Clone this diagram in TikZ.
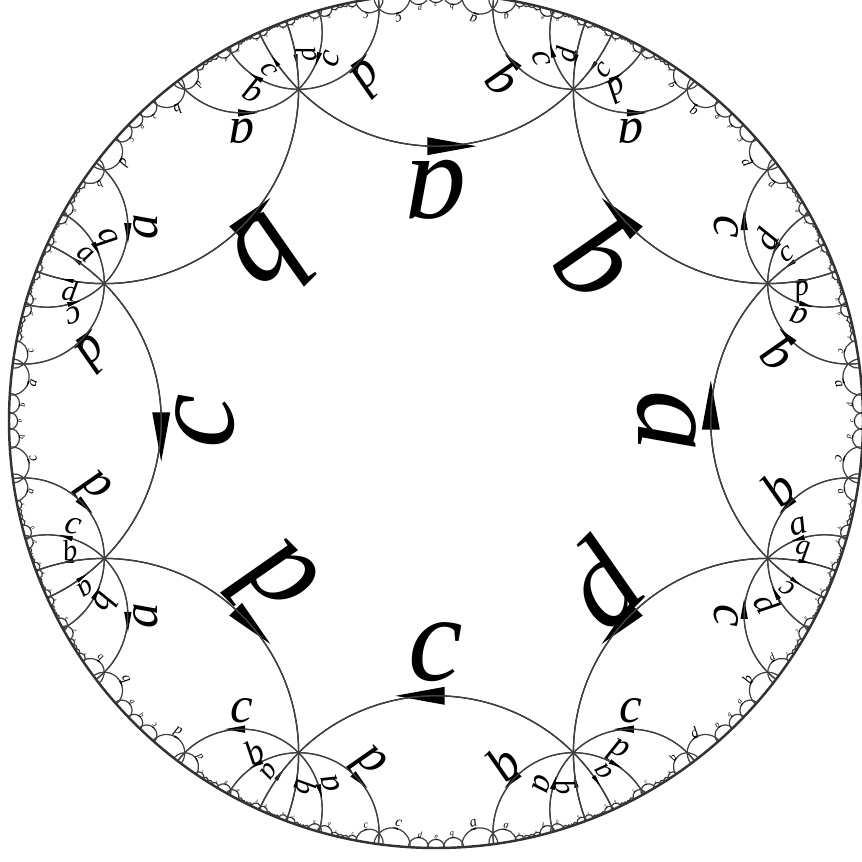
\documentclass[tikz,border=0pt]{standalone}
\usepackage{fontspec}
\setmainfont{Liberation Serif}
\tikzset{
  hyline/.style={line width=0.35pt, draw=black!75},
  hyarrow/.style={fill=black},
  hylabel/.style={inner sep=0pt, font=\fontsize{10}{12}\selectfont\itshape},
  rim/.style={line width=0.7pt, draw=black!80}
}
\newcommand\HyArc[5]{\draw[hyline] (#1,#2) arc[start angle=#3, delta angle=#4, radius=#5];}
\newcommand\HyTri[6]{\fill[hyarrow] (#1,#2) -- (#3,#4) -- (#5,#6) -- cycle;}
\newcommand\HyLab[5]{\node[hylabel, rotate=#3, scale=#4] at (#1,#2) {#5};}
\ExplSyntaxOn
\fp_new:N \l_hy_tau_fp
\fp_new:N \l_hy_rv_fp
\fp_new:N \l_hy_rm_fp
\fp_set:Nn \l_hy_tau_fp { sqrt(2*sqrt(2)-2) }
\fp_set:Nn \l_hy_rv_fp { 2^(-0.25) }
\fp_set:Nn \l_hy_rm_fp { sqrt(sqrt(2)-1) }
\fp_const:Nn \c_hy_at_fp { 0.095 }
\fp_const:Nn \c_hy_ab_fp { 0.02 }
\fp_const:Nn \c_hy_aw_fp { 0.021 }
\fp_const:Nn \c_hy_ln_fp { 0.103 }
\fp_const:Nn \c_hy_lt_fp { 0.0 }
\fp_const:Nn \c_hy_fs_fp { 3.5 }
\clist_map_inline:nn
  { ar,ai,br,bi,cr,ci,dr,di,
    tar,tai,tbr,tbi,tcr,tci,tdr,tdi,
    gar,gai,gbr,gbi,gcr,gci,th,ph,
    x,y,X,Y,mr,mi,qr,qi,s,detr,deti,
    pax,pay,pbx,pby,pcx,pcy,ux,uy,R,sa,da,D,
    tgx,tgy,
    ex,ey,dx,dy,nx,ny,sg,rot,scl }
  { \fp_new:c { l_hy_#1_fp } }
\int_new:N \l_hy_k_int
\int_new:N \l_hy_j_int
\int_new:N \l_hy_e_int
\bool_new:N \l_hy_skip_bool

\cs_new:Npn \hy_pair:n #1
  { \int_case:nn {#1} { {0}{2} {1}{3} {2}{0} {3}{1} {4}{6} {5}{7} {6}{4} {7}{5} } }
\cs_new:Npn \hy_sign:n #1
  { \int_case:nnF {#1} { {0}{1} {1}{1} {4}{1} {5}{1} } {-1} }
\cs_new:Npn \hy_letter:n #1
  { \int_case:nn {#1} { {0}{a} {1}{b} {2}{a} {3}{b} {4}{c} {5}{d} {6}{c} {7}{d} } }
\cs_new:Npn \hy_fmt:n #1 { \fp_eval:n { round( #1 , 5 ) } }

\cs_new_protected:Npn \hy_identity:
  {
    \fp_set:Nn \l_hy_ar_fp {1} \fp_set:Nn \l_hy_ai_fp {0}
    \fp_set:Nn \l_hy_br_fp {0} \fp_set:Nn \l_hy_bi_fp {0}
    \fp_set:Nn \l_hy_cr_fp {0} \fp_set:Nn \l_hy_ci_fp {0}
    \fp_set:Nn \l_hy_dr_fp {1} \fp_set:Nn \l_hy_di_fp {0}
  }

\cs_new_protected:Npn \hy_rmul:n #1
  {
    \int_set:Nn \l_hy_j_int {#1}
    \fp_set:Nn \l_hy_th_fp { 90 * ( \hy_sign:n { \l_hy_j_int } ) }
    \fp_set:Nn \l_hy_ph_fp { 45 * \int_use:N \l_hy_j_int }
    \fp_set:Nn \l_hy_gar_fp { cosd(\l_hy_th_fp) }
    \fp_set:Nn \l_hy_gai_fp { sind(\l_hy_th_fp) }
    \fp_set:Nn \l_hy_gbr_fp { \l_hy_tau_fp * cosd(\l_hy_ph_fp) }
    \fp_set:Nn \l_hy_gbi_fp { \l_hy_tau_fp * sind(\l_hy_ph_fp) }
    \fp_set:Nn \l_hy_gcr_fp { \l_hy_tau_fp * cosd(\l_hy_th_fp - \l_hy_ph_fp) }
    \fp_set:Nn \l_hy_gci_fp { \l_hy_tau_fp * sind(\l_hy_th_fp - \l_hy_ph_fp) }
    \fp_set:Nn \l_hy_tar_fp { \l_hy_ar_fp*\l_hy_gar_fp - \l_hy_ai_fp*\l_hy_gai_fp + \l_hy_br_fp*\l_hy_gcr_fp - \l_hy_bi_fp*\l_hy_gci_fp }
    \fp_set:Nn \l_hy_tai_fp { \l_hy_ar_fp*\l_hy_gai_fp + \l_hy_ai_fp*\l_hy_gar_fp + \l_hy_br_fp*\l_hy_gci_fp + \l_hy_bi_fp*\l_hy_gcr_fp }
    \fp_set:Nn \l_hy_tbr_fp { \l_hy_ar_fp*\l_hy_gbr_fp - \l_hy_ai_fp*\l_hy_gbi_fp + \l_hy_br_fp }
    \fp_set:Nn \l_hy_tbi_fp { \l_hy_ar_fp*\l_hy_gbi_fp + \l_hy_ai_fp*\l_hy_gbr_fp + \l_hy_bi_fp }
    \fp_set:Nn \l_hy_tcr_fp { \l_hy_cr_fp*\l_hy_gar_fp - \l_hy_ci_fp*\l_hy_gai_fp + \l_hy_dr_fp*\l_hy_gcr_fp - \l_hy_di_fp*\l_hy_gci_fp }
    \fp_set:Nn \l_hy_tci_fp { \l_hy_cr_fp*\l_hy_gai_fp + \l_hy_ci_fp*\l_hy_gar_fp + \l_hy_dr_fp*\l_hy_gci_fp + \l_hy_di_fp*\l_hy_gcr_fp }
    \fp_set:Nn \l_hy_tdr_fp { \l_hy_cr_fp*\l_hy_gbr_fp - \l_hy_ci_fp*\l_hy_gbi_fp + \l_hy_dr_fp }
    \fp_set:Nn \l_hy_tdi_fp { \l_hy_cr_fp*\l_hy_gbi_fp + \l_hy_ci_fp*\l_hy_gbr_fp + \l_hy_di_fp }
    \clist_map_inline:nn {ar,ai,br,bi,cr,ci,dr,di}
      { \fp_set_eq:cc { l_hy_##1_fp } { l_hy_t##1_fp } }
  }

\cs_new_protected:Npn \hy_map:nn #1#2
  {
    \fp_set:Nn \l_hy_x_fp {#1}
    \fp_set:Nn \l_hy_y_fp {#2}
    \fp_set:Nn \l_hy_mr_fp { \l_hy_ar_fp*\l_hy_x_fp - \l_hy_ai_fp*\l_hy_y_fp + \l_hy_br_fp }
    \fp_set:Nn \l_hy_mi_fp { \l_hy_ar_fp*\l_hy_y_fp + \l_hy_ai_fp*\l_hy_x_fp + \l_hy_bi_fp }
    \fp_set:Nn \l_hy_qr_fp { \l_hy_cr_fp*\l_hy_x_fp - \l_hy_ci_fp*\l_hy_y_fp + \l_hy_dr_fp }
    \fp_set:Nn \l_hy_qi_fp { \l_hy_cr_fp*\l_hy_y_fp + \l_hy_ci_fp*\l_hy_x_fp + \l_hy_di_fp }
    \fp_set:Nn \l_hy_s_fp { \l_hy_qr_fp^2 + \l_hy_qi_fp^2 }
    \fp_set:Nn \l_hy_X_fp { (\l_hy_mr_fp*\l_hy_qr_fp + \l_hy_mi_fp*\l_hy_qi_fp) / \l_hy_s_fp }
    \fp_set:Nn \l_hy_Y_fp { (\l_hy_mi_fp*\l_hy_qr_fp - \l_hy_mr_fp*\l_hy_qi_fp) / \l_hy_s_fp }
  }

\cs_new_protected:Npn \hy_circ:
  {
    \fp_set:Nn \l_hy_D_fp { 2*( \l_hy_pax_fp*(\l_hy_pby_fp-\l_hy_pcy_fp) + \l_hy_pbx_fp*(\l_hy_pcy_fp-\l_hy_pay_fp) + \l_hy_pcx_fp*(\l_hy_pay_fp-\l_hy_pby_fp) ) }
    \fp_set:Nn \l_hy_ux_fp { ( (\l_hy_pax_fp^2+\l_hy_pay_fp^2)*(\l_hy_pby_fp-\l_hy_pcy_fp) + (\l_hy_pbx_fp^2+\l_hy_pby_fp^2)*(\l_hy_pcy_fp-\l_hy_pay_fp) + (\l_hy_pcx_fp^2+\l_hy_pcy_fp^2)*(\l_hy_pay_fp-\l_hy_pby_fp) ) / \l_hy_D_fp }
    \fp_set:Nn \l_hy_uy_fp { ( (\l_hy_pax_fp^2+\l_hy_pay_fp^2)*(\l_hy_pcx_fp-\l_hy_pbx_fp) + (\l_hy_pbx_fp^2+\l_hy_pby_fp^2)*(\l_hy_pax_fp-\l_hy_pcx_fp) + (\l_hy_pcx_fp^2+\l_hy_pcy_fp^2)*(\l_hy_pbx_fp-\l_hy_pax_fp) ) / \l_hy_D_fp }
    \fp_set:Nn \l_hy_R_fp { sqrt( (\l_hy_pax_fp-\l_hy_ux_fp)^2 + (\l_hy_pay_fp-\l_hy_uy_fp)^2 ) }
  }

\cs_new_protected:Npn \hy_edge:n #1
  {
    \hy_map:nn { \l_hy_rv_fp*cosd(45*#1-22.5) } { \l_hy_rv_fp*sind(45*#1-22.5) }
    \fp_set_eq:NN \l_hy_pax_fp \l_hy_X_fp \fp_set_eq:NN \l_hy_pay_fp \l_hy_Y_fp
    \hy_map:nn { \l_hy_rm_fp*cosd(45*#1) } { \l_hy_rm_fp*sind(45*#1) }
    \fp_set_eq:NN \l_hy_pbx_fp \l_hy_X_fp \fp_set_eq:NN \l_hy_pby_fp \l_hy_Y_fp
    \hy_map:nn { \l_hy_rv_fp*cosd(45*#1+22.5) } { \l_hy_rv_fp*sind(45*#1+22.5) }
    \fp_set_eq:NN \l_hy_pcx_fp \l_hy_X_fp \fp_set_eq:NN \l_hy_pcy_fp \l_hy_Y_fp
    \hy_circ:
    \fp_set:Nn \l_hy_th_fp { atand( -\l_hy_uy_fp, -\l_hy_ux_fp ) }
    \fp_set:Nn \l_hy_da_fp { atand( 1, \l_hy_R_fp ) }
    \fp_set:Nn \l_hy_sa_fp { \l_hy_th_fp - \l_hy_da_fp }
    \use:e { \exp_not:N \HyArc
      { \hy_fmt:n { \l_hy_ux_fp + \l_hy_R_fp*cosd(\l_hy_sa_fp) } }
      { \hy_fmt:n { \l_hy_uy_fp + \l_hy_R_fp*sind(\l_hy_sa_fp) } }
      { \hy_fmt:n { \l_hy_sa_fp } }
      { \hy_fmt:n { 2*\l_hy_da_fp } }
      { \fp_eval:n { round(\l_hy_R_fp, 6) } } }
    \fp_set:Nn \l_hy_dx_fp { \l_hy_pax_fp + \l_hy_pcx_fp - 2*\l_hy_ux_fp }
    \fp_set:Nn \l_hy_dy_fp { \l_hy_pay_fp + \l_hy_pcy_fp - 2*\l_hy_uy_fp }
    \fp_set:Nn \l_hy_s_fp { sqrt(\l_hy_dx_fp^2 + \l_hy_dy_fp^2) }
    \fp_set:Nn \l_hy_dx_fp { \l_hy_dx_fp / \l_hy_s_fp }
    \fp_set:Nn \l_hy_dy_fp { \l_hy_dy_fp / \l_hy_s_fp }
    \fp_set:Nn \l_hy_ex_fp { \l_hy_ux_fp + \l_hy_R_fp*\l_hy_dx_fp }
    \fp_set:Nn \l_hy_ey_fp { \l_hy_uy_fp + \l_hy_R_fp*\l_hy_dy_fp }
    \fp_set:Nn \l_hy_tgx_fp { -\l_hy_dy_fp }
    \fp_set:Nn \l_hy_tgy_fp { \l_hy_dx_fp }
    \fp_compare:nNnT { \l_hy_tgx_fp*(\l_hy_pcx_fp-\l_hy_pax_fp) + \l_hy_tgy_fp*(\l_hy_pcy_fp-\l_hy_pay_fp) } < { 0 }
      {
        \fp_set:Nn \l_hy_tgx_fp { -\l_hy_tgx_fp }
        \fp_set:Nn \l_hy_tgy_fp { -\l_hy_tgy_fp }
      }
    \fp_set:Nn \l_hy_nx_fp { -\l_hy_tgy_fp }
    \fp_set:Nn \l_hy_ny_fp { \l_hy_tgx_fp }
    \fp_set:Nn \l_hy_sg_fp { \hy_sign:n {#1} }
    \fp_set:Nn \l_hy_scl_fp { sqrt((\l_hy_pcx_fp-\l_hy_pax_fp)^2 + (\l_hy_pcy_fp-\l_hy_pay_fp)^2) / \l_hy_rm_fp }
    \use:e { \exp_not:N \HyTri
      { \hy_fmt:n { \l_hy_ex_fp + \l_hy_scl_fp*\c_hy_at_fp*\l_hy_sg_fp*\l_hy_tgx_fp } }
      { \hy_fmt:n { \l_hy_ey_fp + \l_hy_scl_fp*\c_hy_at_fp*\l_hy_sg_fp*\l_hy_tgy_fp } }
      { \hy_fmt:n { \l_hy_ex_fp + \l_hy_scl_fp*( -\c_hy_ab_fp*\l_hy_sg_fp*\l_hy_tgx_fp + \c_hy_aw_fp*\l_hy_nx_fp ) } }
      { \hy_fmt:n { \l_hy_ey_fp + \l_hy_scl_fp*( -\c_hy_ab_fp*\l_hy_sg_fp*\l_hy_tgy_fp + \c_hy_aw_fp*\l_hy_ny_fp ) } }
      { \hy_fmt:n { \l_hy_ex_fp + \l_hy_scl_fp*( -\c_hy_ab_fp*\l_hy_sg_fp*\l_hy_tgx_fp - \c_hy_aw_fp*\l_hy_nx_fp ) } }
      { \hy_fmt:n { \l_hy_ey_fp + \l_hy_scl_fp*( -\c_hy_ab_fp*\l_hy_sg_fp*\l_hy_tgy_fp - \c_hy_aw_fp*\l_hy_ny_fp ) } } }
    \fp_set:Nn \l_hy_rot_fp { atand(\l_hy_sg_fp*\l_hy_tgy_fp, \l_hy_sg_fp*\l_hy_tgx_fp) + 180 }
    \fp_compare:nNnT { \c_hy_fs_fp*\l_hy_scl_fp } > { 0.08 }
      {
        \use:e { \exp_not:N \HyLab
          { \hy_fmt:n { \l_hy_ex_fp + \l_hy_scl_fp*( \c_hy_ln_fp*\l_hy_nx_fp + \c_hy_lt_fp*\l_hy_tgx_fp ) } }
          { \hy_fmt:n { \l_hy_ey_fp + \l_hy_scl_fp*( \c_hy_ln_fp*\l_hy_ny_fp + \c_hy_lt_fp*\l_hy_tgy_fp ) } }
          { \hy_fmt:n { \l_hy_rot_fp } }
          { \hy_fmt:n { \c_hy_fs_fp*\l_hy_scl_fp } }
          { \hy_letter:n {#1} } }
      }
  }

\cs_new_protected:Npn \hy_tile:nn #1#2
  {
    \int_step_inline:nnn {0}{7}
      {
        \bool_set_false:N \l_hy_skip_bool
        \int_compare:nT { 1 <= #1 <= 3 }
          { \int_compare:nT { ##1 = #2 } { \bool_set_true:N \l_hy_skip_bool } }
        \int_compare:nT { #1 = 4 }
          {
            \int_compare:nT { ##1 = #2 } { \bool_set_true:N \l_hy_skip_bool }
            \int_compare:nT { ##1 = \int_mod:nn { #2 + 1 } { 8 } } { \bool_set_true:N \l_hy_skip_bool }
          }
        \int_compare:nT { #1 >= 5 }
          { \int_compare:nT { ##1 = \int_mod:nn { #2 + 1 } { 8 } } { \bool_set_true:N \l_hy_skip_bool } }
        \bool_if:NF \l_hy_skip_bool { \hy_edge:n {##1} }
      }
  }

\cs_new_protected:Npn \hy_fan:n #1
  {
    \hy_identity:
    \int_set:Nn \l_hy_k_int {#1}
    \int_step_inline:nnn {1}{6}
      {
        \int_set:Nn \l_hy_e_int { \int_mod:nn { \l_hy_k_int + 1 } {8} }
        \hy_rmul:n { \int_use:N \l_hy_e_int }
        \int_set:Nn \l_hy_k_int { \hy_pair:n { \l_hy_e_int } }
        \hy_tile:nn {##1} { \l_hy_k_int }
      }
  }

\NewDocumentCommand \HyDrawAll {}
  {
    \hy_identity:
    \hy_tile:nn {0}{0}
    \int_step_function:nnN {0}{7} \hy_fan:n
  }
\ExplSyntaxOff
\begin{document}
\begin{tikzpicture}[scale=4.27]
\useasboundingbox (-1.0211,-1.0328) rectangle (0.9977,0.9860);
\begin{scope}
\clip (-1.0211,-1.0328) rectangle (0.9977,0.9860);
\HyDrawAll
\draw[rim] (0,0) circle (1);
\end{scope}
\end{tikzpicture}
\end{document}
